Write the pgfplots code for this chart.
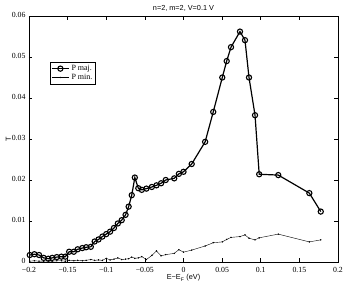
\documentclass[border=0pt]{standalone}
\usepackage{fontspec}
\setmainfont{Liberation Serif}
\setsansfont{Liberation Sans}
\usepackage{pgfplots}
\pgfplotsset{compat=1.18}
\begin{document}
\begin{tikzpicture}
\begin{axis}[
  scale only axis,
  width=309pt, height=246pt,
  xmin=-0.2, xmax=0.2, ymin=0, ymax=0.06,
  scaled x ticks=false, scaled y ticks=false,
  xtick={-0.2,-0.15,-0.1,-0.05,0,0.05,0.1,0.15,0.2},
  xticklabels={−0.2,−0.15,−0.1,−0.05,0,0.05,0.1,0.15,0.2},
  ytick={0,0.01,0.02,0.03,0.04,0.05,0.06},
  yticklabels={0,0.01,0.02,0.03,0.04,0.05,0.06},
  tick align=inside,
  major tick length=3.5pt,
  tick style={black, line width=0.5pt},
  ticklabel style={font=\fontsize{7.8}{8}\selectfont},
  xticklabel style={yshift=-1.5pt},
  yticklabel style={yshift=0.8pt},
  axis line style={black, line width=0.6pt},
  title={\sffamily\fontsize{7.3}{8}\selectfont n=2, m=2, V=0.1 V},
  title style={yshift=-5pt},
  xlabel={\sffamily\fontsize{7.3}{8}\selectfont E−E\textsubscript{F} (eV)},
  xlabel style={yshift=4.5pt},
  ylabel={\sffamily\fontsize{7.3}{8}\selectfont T},
  ylabel style={yshift=-6pt},
  legend style={at={(0.068,0.813)}, anchor=north west, draw=black, line width=0.5pt,
    font=\fontsize{8}{8}\selectfont, inner sep=1pt, row sep=-2pt,
    legend cell align=left},
]
\addplot[black, line width=1.2pt, mark=o, mark size=2.6pt, mark options={line width=1.1pt}] coordinates {
(-0.199,0.0017)(-0.193,0.0019)(-0.187,0.0017)(-0.181,0.0010)(-0.175,0.0008)
(-0.170,0.0010)(-0.164,0.0012)(-0.158,0.0013)(-0.153,0.0013)(-0.148,0.0025)
(-0.142,0.0025)(-0.137,0.0031)(-0.131,0.0034)(-0.126,0.0036)(-0.120,0.0037)
(-0.115,0.0050)(-0.110,0.0055)(-0.105,0.0062)(-0.100,0.0068)(-0.095,0.0074)
(-0.090,0.0083)(-0.085,0.0094)(-0.080,0.0102)(-0.075,0.0115)(-0.071,0.0135)
(-0.067,0.0163)(-0.063,0.0206)(-0.0585,0.0180)(-0.054,0.0176)(-0.048,0.0179)
(-0.041,0.0183)(-0.035,0.0187)(-0.029,0.0192)(-0.023,0.0200)(-0.012,0.0204)
(-0.006,0.0215)(0.000,0.0220)(0.0106,0.0239)(0.028,0.0293)(0.0385,0.0366)
(0.0502,0.0450)(0.0559,0.0490)(0.0615,0.0524)(0.0731,0.0562)(0.0796,0.0541)
(0.0848,0.0450)(0.0926,0.0358)(0.098,0.0214)(0.1227,0.0212)(0.1629,0.0168)
(0.1777,0.0123)
};
\addlegendentry{P maj.}
\addplot[black, line width=0.4pt, mark=*, mark size=0.5pt] coordinates {
(-0.199,0.0002)(-0.193,0.0003)(-0.187,0.0002)(-0.181,0.0002)(-0.175,0.0003)
(-0.170,0.0002)(-0.164,0.0003)(-0.158,0.0003)(-0.153,0.0002)(-0.148,0.0004)
(-0.142,0.0003)(-0.137,0.0004)(-0.131,0.0003)(-0.126,0.0004)(-0.120,0.0006)
(-0.115,0.0004)(-0.110,0.0005)(-0.105,0.0004)(-0.100,0.0009)(-0.095,0.0005)
(-0.090,0.0007)(-0.085,0.0010)(-0.080,0.0006)(-0.075,0.0007)(-0.071,0.0008)
(-0.067,0.0012)(-0.063,0.0009)(-0.0585,0.0010)(-0.054,0.0013)(-0.048,0.0006)
(-0.041,0.0016)(-0.035,0.0027)(-0.029,0.0015)(-0.023,0.0018)(-0.012,0.0021)
(-0.006,0.0030)(0.000,0.0024)(0.0106,0.0029)(0.028,0.0039)(0.0385,0.0047)
(0.0502,0.0049)(0.0559,0.0055)(0.0615,0.0060)(0.0731,0.0062)(0.0796,0.0066)
(0.0848,0.0058)(0.0926,0.0054)(0.098,0.0059)(0.1227,0.0068)(0.1629,0.0049)
(0.1777,0.0054)
};
\addlegendentry{P min.}
\end{axis}
\pgfresetboundingbox
\path (-29pt,-26pt) rectangle (317pt,262pt);
\end{tikzpicture}
\end{document}
